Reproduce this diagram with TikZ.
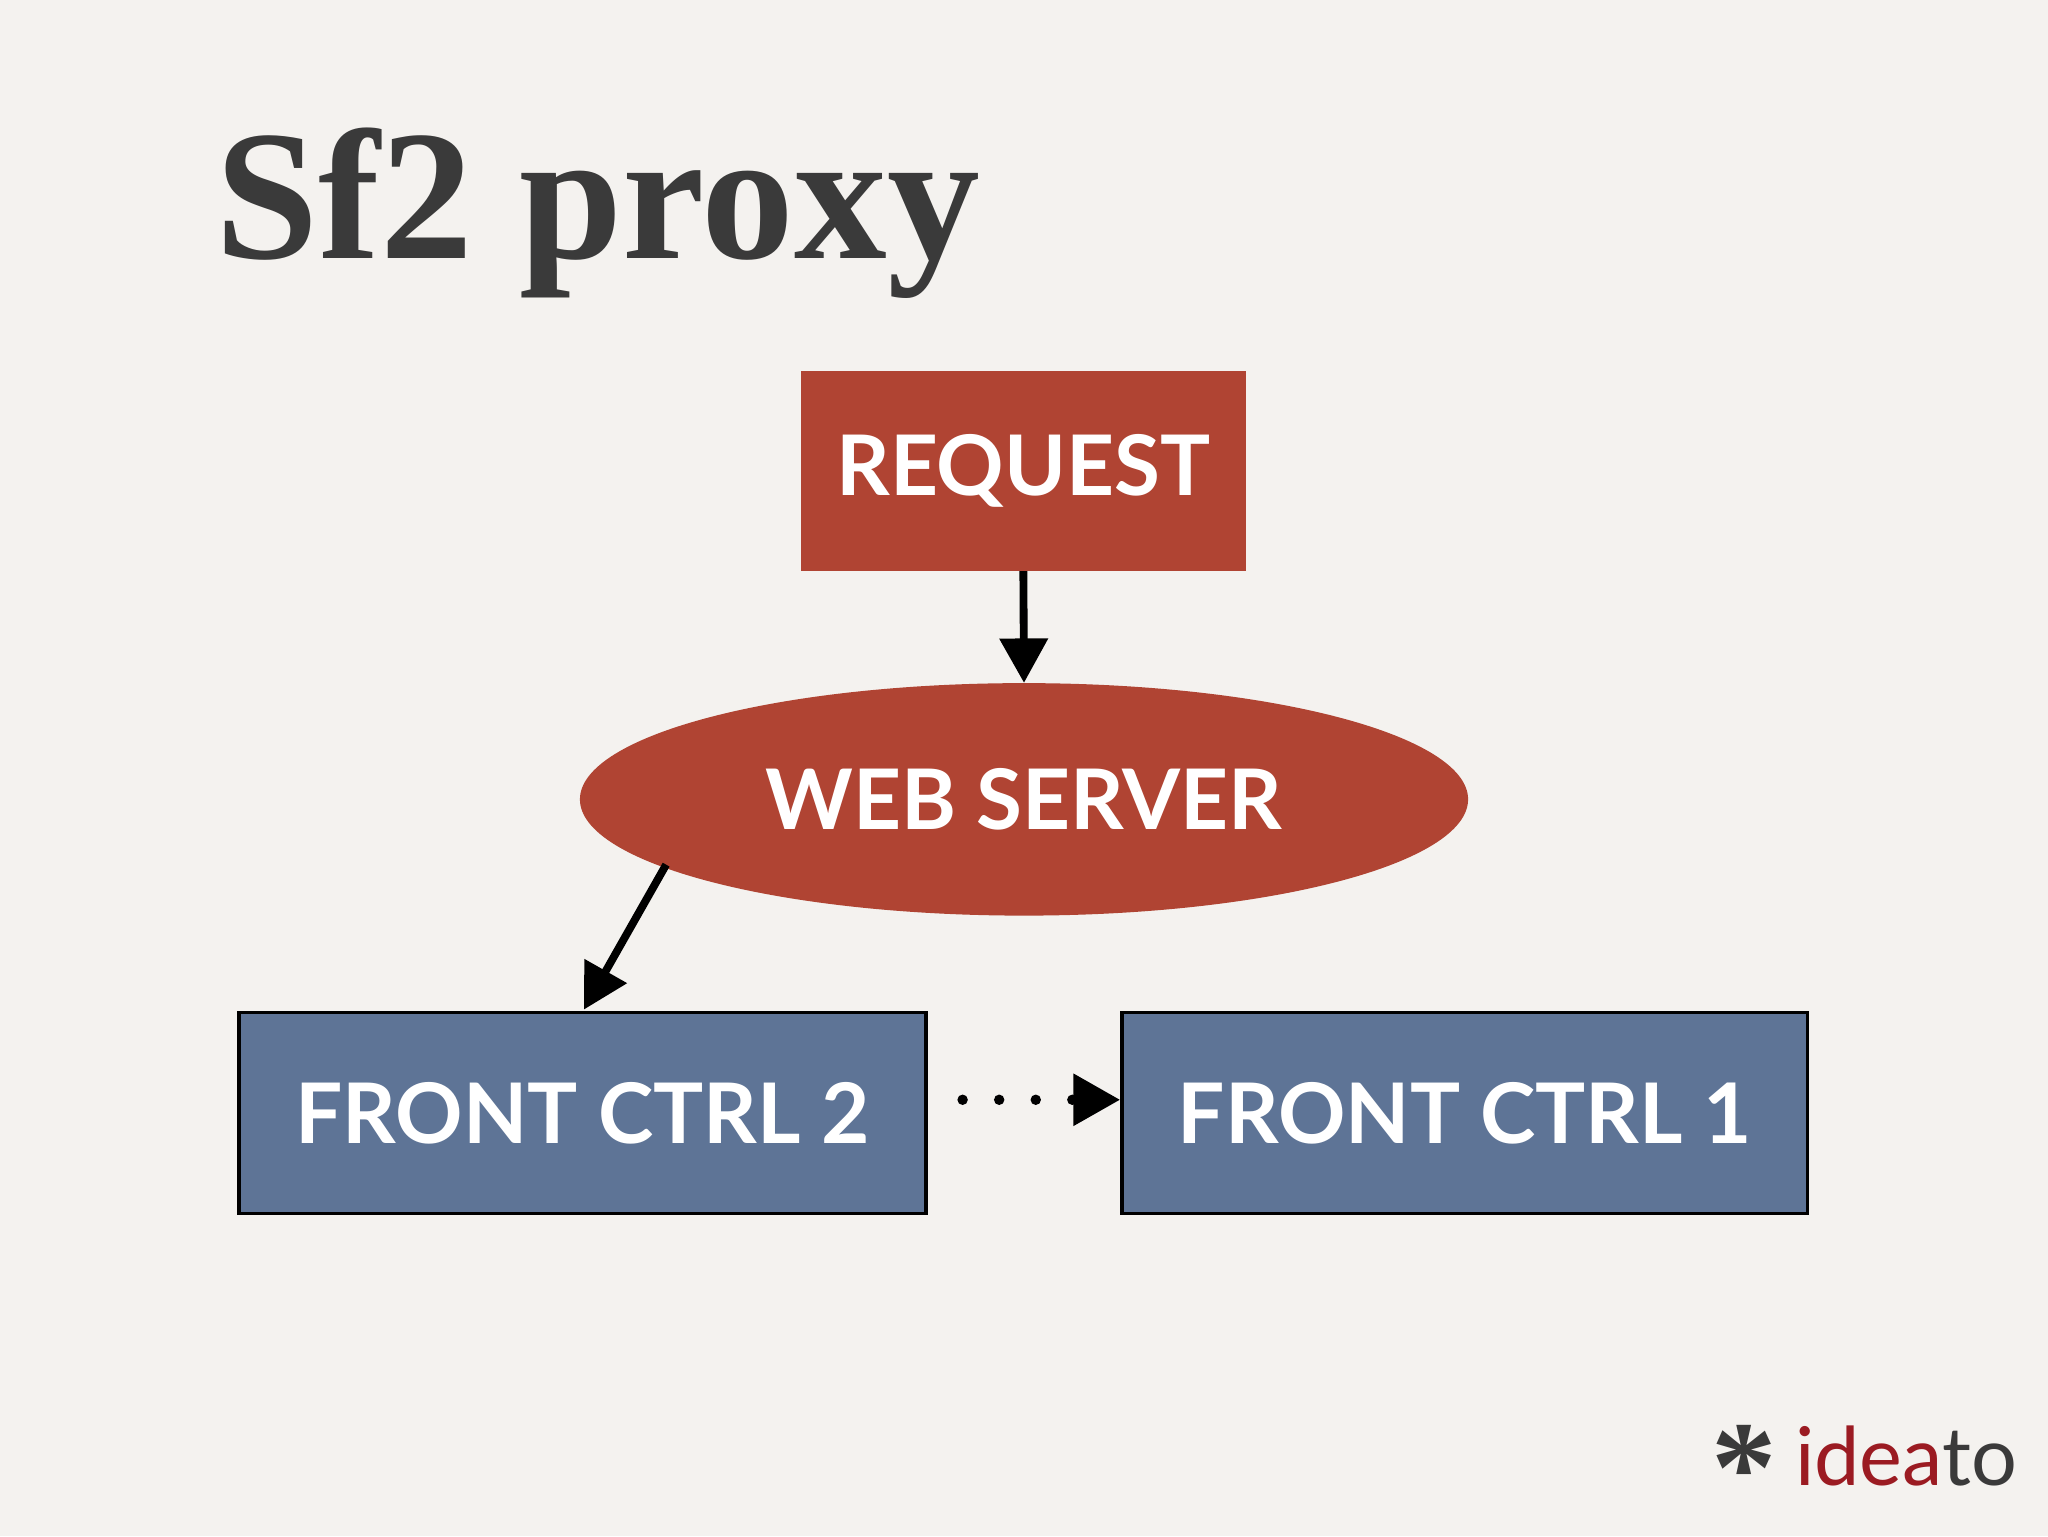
\documentclass[tikz,border=0pt]{standalone}
\usepackage{fontspec}
\setmainfont{Liberation Serif}
\newfontfamily\gill{Lato}
\usetikzlibrary{shapes.geometric,arrows.meta}
\definecolor{bg}{HTML}{F4F2EF}
\definecolor{redbox}{HTML}{B04433}
\definecolor{bluebox}{HTML}{5E7496}
\definecolor{titlec}{HTML}{3A3A3A}
\definecolor{logored}{HTML}{9B1B22}
\begin{document}
\begin{tikzpicture}[x=1pt,y=-1pt,
  lbl/.style={text=white,font=\gill\bfseries\fontsize{64}{64}\selectfont},
  conn/.style={line width=6pt,-{Triangle[length=34pt,width=36pt]}}]
\fill[bg] (0,0) rectangle (1568,1176);
\useasboundingbox (0,0) rectangle (1568,1176);
\node[anchor=base west,text=titlec,font=\bfseries\fontsize{142}{142}\selectfont,inner sep=0] (title) at (165,198) {Sf2 proxy};
\node[fill=redbox,minimum width=341pt,minimum height=153pt,inner sep=0,lbl] (req) at (783.5,360.5) {REQUEST};
\node[ellipse,fill=redbox,minimum width=680pt,minimum height=178pt,inner sep=0,lbl] (web) at (784,612) {WEB SERVER};
\node[fill=bluebox,draw=black,line width=2.5pt,minimum width=526pt,minimum height=154pt,inner sep=0,lbl] (fc2) at (446,852) {FRONT CTRL 2};
\node[fill=bluebox,draw=black,line width=2.5pt,minimum width=525pt,minimum height=154pt,inner sep=0,lbl] (fc1) at (1121.5,852) {FRONT CTRL 1};
\draw[conn] (req.south) -- (web.north);
\coordinate (ws) at (510,662);
\draw[conn] (ws) -- (447,773) coordinate (fc2t);
\coordinate (ds) at (737,842);
\draw[line width=8pt,dash pattern=on 0pt off 28pt,line cap=round,-{Triangle[length=36pt,width=38pt]}] (ds) -- (ds -| fc1.west);
\node[anchor=base east,font=\gill\fontsize{62}{62}\selectfont,inner sep=0] (logo) at (1545,1137) {\textcolor{logored}{idea}\textcolor{titlec}{to}};
\node[anchor=center,font=\bfseries\fontsize{100}{100}\selectfont,text=titlec,inner sep=0] (ast) at (1335,1124) {*};
\end{tikzpicture}
\end{document}
